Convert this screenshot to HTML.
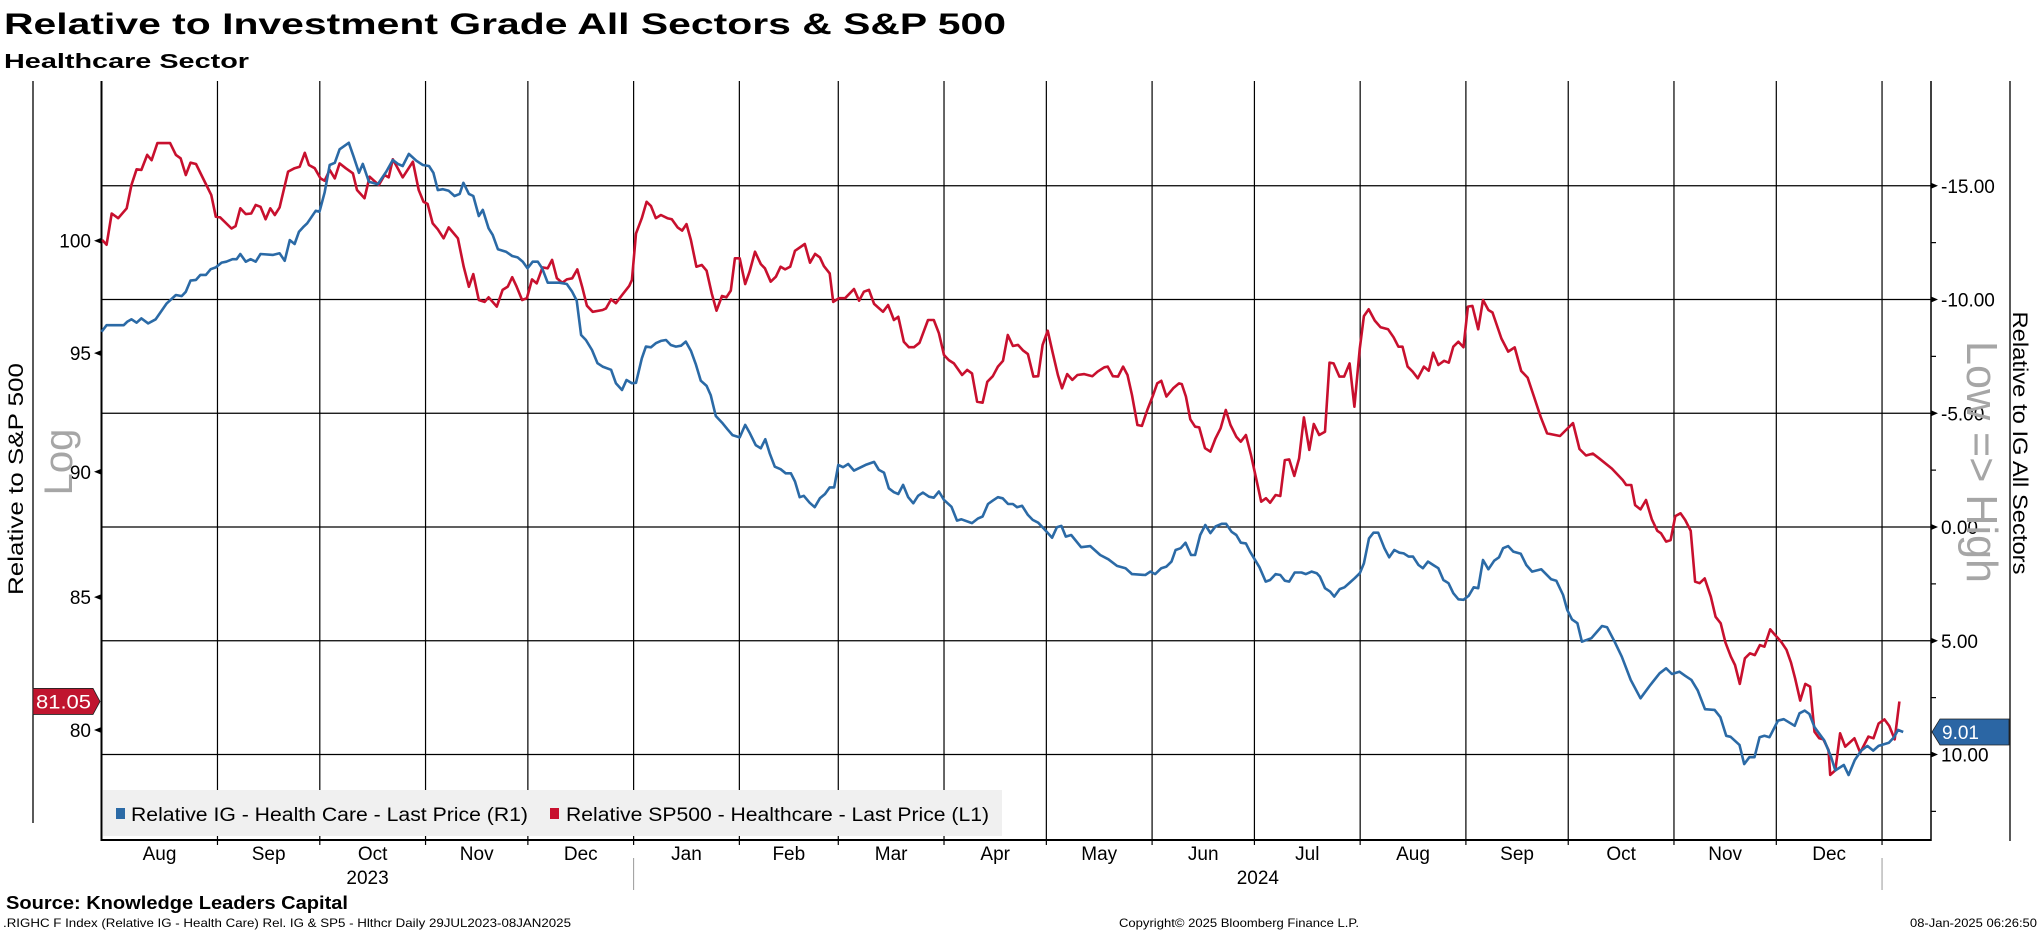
<!DOCTYPE html>
<html><head><meta charset="utf-8"><title>Relative to Investment Grade All Sectors & S&P 500</title>
<style>
html,body{margin:0;padding:0;background:#fff;}
svg{display:block;font-family:"Liberation Sans",sans-serif;}
</style></head>
<body>
<svg id="chart" width="2041" height="932" viewBox="0 0 2041 932" xmlns="http://www.w3.org/2000/svg">
  <rect x="0" y="0" width="2041" height="932" fill="#fff"/>
  <text x="4" y="34" font-size="30" font-weight="bold" textLength="1002" lengthAdjust="spacingAndGlyphs">Relative to Investment Grade All Sectors &amp; S&amp;P 500</text>
  <text x="4" y="68" font-size="20" font-weight="bold" textLength="245" lengthAdjust="spacingAndGlyphs">Healthcare Sector</text>
  <g id="grid"></g>
  <line x1="33" y1="81" x2="33" y2="823" stroke="#000" stroke-width="1.3"/>
  <line x1="101.5" y1="81" x2="101.5" y2="841" stroke="#000" stroke-width="2"/>
  <line x1="1931" y1="81" x2="1931" y2="841" stroke="#000" stroke-width="1.5"/>
  <line x1="2010" y1="81" x2="2010" y2="841" stroke="#000" stroke-width="1.3"/>
  <line x1="101.5" y1="840" x2="1931" y2="840" stroke="#000" stroke-width="2"/>
  <g id="legend">
    <rect x="103" y="790" width="899" height="46" fill="#f0f0f0"/>
    <rect x="116" y="808" width="9" height="11" fill="#2b6aa6"/>
    <text x="131" y="821" font-size="19" textLength="397" lengthAdjust="spacingAndGlyphs">Relative IG - Health Care - Last Price (R1)</text>
    <rect x="550" y="808" width="9" height="11" fill="#c8102e"/>
    <text x="566" y="821" font-size="19" textLength="423" lengthAdjust="spacingAndGlyphs">Relative SP500 - Healthcare - Last Price (L1)</text>
  </g>
  <g id="xaxis"></g>
  <g id="laxis"></g>
  <g id="raxis"></g>
  <g id="series"></g>
  <text transform="translate(23,479) rotate(-90)" text-anchor="middle" font-size="21" textLength="232" lengthAdjust="spacingAndGlyphs">Relative to S&amp;P 500</text>
  <text transform="translate(72,462) rotate(-90)" text-anchor="middle" font-size="40" fill="#a6a6a6">Log</text>
  <text transform="translate(1967,462) rotate(90)" text-anchor="middle" font-size="44" fill="#a6a6a6" textLength="242" lengthAdjust="spacingAndGlyphs">Low =&gt; High</text>
  <text transform="translate(2013,443) rotate(90)" text-anchor="middle" font-size="21" textLength="263" lengthAdjust="spacingAndGlyphs">Relative to IG All Sectors</text>
  <g id="badges"></g>
  <text x="6" y="909" font-size="18" font-weight="bold" textLength="342" lengthAdjust="spacingAndGlyphs">Source: Knowledge Leaders Capital</text>
  <text x="3" y="927" font-size="12" textLength="568" lengthAdjust="spacingAndGlyphs">.RIGHC F Index (Relative IG - Health Care) Rel. IG &amp; SP5 - Hlthcr  Daily 29JUL2023-08JAN2025</text>
  <text x="1119" y="927" font-size="12" textLength="240" lengthAdjust="spacingAndGlyphs">Copyright© 2025 Bloomberg Finance L.P.</text>
  <text x="1910" y="927" font-size="12" textLength="127" lengthAdjust="spacingAndGlyphs">08-Jan-2025 06:26:50</text>
</svg>
<script>
const monthStarts = ["2023-09-01","2023-10-01","2023-11-01","2023-12-01","2024-01-01","2024-02-01","2024-03-01","2024-04-01","2024-05-01","2024-06-01","2024-07-01","2024-08-01","2024-09-01","2024-10-01","2024-11-01","2024-12-01","2025-01-01"];
const monthLabels = ["Aug","Sep","Oct","Nov","Dec","Jan","Feb","Mar","Apr","May","Jun","Jul","Aug","Sep","Oct","Nov","Dec"];
const yearLabels = ["2023","2024"];
const leftTicks = [80,85,90,95,100];
const rightTicks = [-15,-10,-5,0,5,10];
const rightMinorTicks = [-12.5,-7.5,-2.5,2.5,7.5,12.5];
const redLast = 81.05;
const blueLast = 9.01;
const redDays = [0.2,1.5,3.0,4.9,7.4,8.8,10.3,11.7,13.4,14.7,16.4,20.1,21.8,23.2,24.7,26.1,27.7,29.3,32.2,33.5,34.8,38.1,39.3,40.7,42.3,43.9,45.2,46.6,48.1,49.5,50.8,52.2,54.7,56.6,58.1,59.6,60.8,62.5,64.2,65.4,66.9,68.4,69.8,71.6,73.7,74.9,77.1,78.6,81.3,83.0,84.2,85.4,88.3,91.3,93.0,94.4,95.6,97.1,98.6,100.3,101.8,104.5,106.2,107.7,109.0,110.6,112.3,113.5,115.9,117.6,119.1,120.4,121.7,123.3,124.7,126.2,127.6,129.3,130.8,132.1,133.5,135.1,136.4,138.0,139.5,140.9,142.3,144.0,146.9,147.9,149.4,150.8,152.6,154.7,155.5,156.7,158.4,159.8,161.1,162.5,164.0,165.9,167.2,168.9,170.2,171.5,172.8,174.4,176.0,177.4,178.9,180.3,181.9,183.2,184.5,185.7,187.1,188.7,190.0,191.6,193.3,194.5,196.2,197.7,199.1,200.4,201.9,203.3,206.2,207.7,209.2,210.6,211.8,213.5,214.5,216.2,218.0,220.6,222.1,223.5,225.0,226.5,229.1,230.6,232.3,233.6,235.2,236.7,238.2,239.8,242.3,244.0,245.5,247.0,248.4,249.9,252.3,253.8,255.2,256.7,258.3,259.7,261.3,262.8,264.3,265.7,267.2,268.7,270.2,271.6,273.2,274.6,275.9,277.4,278.9,280.4,281.6,283.1,284.6,286.1,288.1,290.5,292.0,294.0,295.0,296.5,298.0,299.5,300.8,302.1,303.7,305.0,306.6,308.3,309.5,310.7,312.2,314.2,315.9,316.7,317.9,319.2,320.6,321.8,323.5,325.1,326.6,328.1,329.6,331.0,332.7,334.0,335.5,337.0,338.5,340.0,341.4,342.6,344.2,345.6,346.9,348.2,349.7,351.1,352.5,354.1,355.4,357.0,358.7,360.0,361.2,362.9,364.3,365.9,367.3,368.9,370.1,371.5,373.3,375.0,377.2,378.8,380.2,381.4,382.9,384.4,385.9,387.7,389.1,390.4,391.9,393.6,395.0,396.3,397.8,399.3,400.6,401.9,403.6,405.0,406.6,407.8,410.4,412.4,414.3,416.2,418.1,420.0,421.9,423.8,427.6,429.5,431.4,433.3,435.2,437.2,439.0,442.8,446.0,447.0,448.5,449.6,451.2,452.8,454.5,456.1,457.2,458.7,460.0,461.4,462.9,464.3,465.9,467.2,468.5,470.0,471.8,473.2,474.7,476.1,477.7,478.9,480.3,481.8,483.3,484.7,486.2,487.5,489.2,490.6,492.4,494.0,495.3,496.5,498.0,499.5,500.9,502.2,503.6,504.8,506.3,506.8,508.3,509.7,511.2,513.9,515.6,518.0,519.5,521.0,522.7,524.1,525.7,527.1];
const redValues = [100.03,99.82,101.25,101.03,101.49,102.58,103.31,103.28,103.99,103.74,104.55,104.55,103.99,103.83,103.04,103.62,103.56,103.04,102.10,101.10,101.07,100.56,100.67,101.49,101.22,101.25,101.64,101.56,100.98,101.49,101.18,101.53,103.20,103.36,103.43,104.09,103.51,103.36,102.88,102.77,103.28,102.88,103.59,103.36,103.12,102.34,101.95,102.96,102.57,103.04,102.93,103.78,102.93,103.67,102.34,101.79,101.69,100.79,100.52,100.11,100.61,100.11,98.82,97.92,98.49,97.33,97.25,97.45,97.04,97.78,97.93,98.35,97.93,97.33,97.41,98.25,98.07,98.79,98.75,99.13,98.30,98.10,98.25,98.30,98.70,97.93,97.08,96.81,96.89,96.96,97.36,97.19,97.55,97.96,98.22,100.33,101.03,101.79,101.59,101.03,101.18,101.03,100.98,100.61,100.46,100.76,100.03,98.82,98.90,98.64,97.63,96.86,97.51,97.45,97.75,99.20,99.20,98.04,98.60,99.50,98.94,98.75,98.15,98.37,98.82,98.70,98.82,99.54,99.85,99.00,99.40,99.24,98.85,98.52,97.25,97.41,97.41,97.82,97.30,97.70,97.78,97.16,96.81,97.11,96.45,96.59,95.50,95.26,95.26,95.45,96.45,96.45,95.87,94.92,94.70,94.56,94.06,94.28,94.13,92.92,92.88,93.77,94.01,94.42,94.67,95.79,95.31,95.36,95.11,94.96,93.99,94.01,95.36,95.98,95.00,94.06,93.49,94.10,93.85,94.06,94.10,94.01,94.20,94.39,94.42,94.01,93.99,94.42,94.06,93.20,91.94,91.90,92.57,93.20,93.70,93.81,93.14,93.49,93.70,93.67,93.14,92.18,91.87,91.84,90.97,90.83,91.38,91.80,92.57,91.94,91.45,91.24,91.52,90.69,89.73,88.78,88.92,88.74,89.05,89.01,90.48,90.51,89.83,90.55,92.26,90.90,91.98,91.52,91.66,94.59,94.56,93.99,93.99,94.56,92.71,95.21,96.62,96.92,96.42,96.13,96.04,95.69,95.28,95.28,94.42,94.20,93.92,94.42,94.24,95.02,94.49,94.67,94.59,95.28,95.50,95.26,97.04,97.07,96.04,97.33,96.89,96.78,95.64,95.07,95.25,94.23,93.95,93.12,92.29,91.59,91.48,91.75,92.02,90.94,90.67,90.75,90.56,90.13,89.66,89.46,89.46,88.64,88.47,88.85,88.07,87.61,87.51,87.18,87.24,88.20,88.31,88.04,87.61,85.60,85.54,85.73,85.02,84.24,83.99,83.25,82.72,82.41,81.70,82.66,82.85,82.78,83.16,83.10,83.76,83.55,83.29,82.98,82.50,81.91,81.08,81.70,81.60,79.94,79.70,79.66,79.28,78.38,78.54,79.88,79.40,79.70,79.18,79.76,79.70,80.24,80.39,80.15,79.66,81.05];
const blueDays = [0,1.5,3.8,6.5,7.6,8.8,10.3,11.7,13.7,15.9,19.1,21.8,23.5,24.7,26.1,27.7,29.0,30.6,32.0,33.5,35.2,36.6,38.4,39.6,40.7,42.3,43.7,45.2,46.6,50.3,52.2,53.7,55.2,56.6,57.9,59.1,60.3,62.8,63.9,65.4,66.9,68.4,69.8,72.5,73.9,75.5,76.6,78.4,81.0,83.5,85.4,86.9,88.3,90.1,92.3,94.2,96.0,97.3,98.6,100.1,101.8,103.5,105.0,106.1,107.7,109.0,110.6,111.8,113.5,114.7,116.2,118.6,120.4,122.0,123.5,124.9,126.4,127.9,129.2,130.8,134.2,136.4,138.0,139.3,140.6,142.0,143.8,145.4,146.9,149.4,150.8,152.6,153.9,155.5,156.7,158.4,159.6,161.1,162.5,164.0,165.5,166.9,168.4,169.9,171.3,172.8,174.2,175.7,177.4,178.6,180.1,181.9,183.5,185.0,187.1,188.7,190.1,191.8,193.3,194.6,195.9,197.4,199.1,200.6,202.1,203.3,204.7,205.9,207.6,209.1,210.6,212.1,213.5,214.8,216.0,217.4,218.9,220.6,224.0,226.5,227.9,229.4,230.8,232.3,233.6,235.0,236.5,238.0,239.4,240.8,242.6,244.0,245.5,247.0,249.2,250.8,252.1,255.2,257.0,258.3,259.9,261.3,262.8,264.2,265.8,267.2,268.4,269.9,271.6,273.0,274.6,276.2,278.7,280.1,281.4,282.7,284.3,287.2,289.9,292.8,295.2,297.7,300.2,302.1,306.0,307.5,308.9,310.7,312.2,313.7,314.9,316.4,317.8,319.4,320.6,322.1,323.6,325.1,326.6,328.4,329.7,331.3,332.7,334.0,335.5,336.7,339.5,341.3,342.6,344.2,345.6,346.9,348.2,349.8,351.8,353.1,354.8,356.3,357.2,358.7,360.2,361.4,363.0,364.4,366.0,367.4,368.9,370.1,371.6,372.9,374.3,376.1,377.5,379.0,380.5,381.8,383.2,384.5,386.1,387.4,388.9,390.4,391.9,393.4,394.9,396.3,397.8,399.3,400.8,402.3,403.6,405.0,406.6,408.3,409.7,410.9,412.4,413.9,416.1,417.7,419.4,422.1,425.0,426.5,428.5,429.7,431.1,432.7,434.0,436.8,439.9,441.4,443.6,445.7,448.3,451.2,454.1,456.8,458.7,460.4,462.6,464.3,466.1,468.0,470.1,472.9,474.6,476.3,477.6,480.2,481.6,483.1,484.6,486.1,487.5,489.0,491.5,493.2,496.4,497.8,499.3,500.7,502.2,505.1,507.1,508.3,510.8,512.2,514.0,515.9,517.7,519.4,521.0,524.0,525.5,526.7,528.2];
const blueValues = [-8.58,-8.87,-8.87,-8.87,-9.03,-9.13,-8.98,-9.17,-8.95,-9.13,-9.83,-10.20,-10.15,-10.34,-10.83,-10.86,-11.08,-11.08,-11.33,-11.41,-11.62,-11.66,-11.77,-11.77,-12.00,-11.66,-11.77,-11.66,-12.00,-11.96,-12.03,-11.70,-12.61,-12.44,-12.98,-13.18,-13.35,-13.90,-13.86,-14.70,-15.91,-16.01,-16.60,-16.89,-16.28,-15.57,-15.96,-15.18,-15.07,-15.62,-16.13,-15.96,-15.87,-16.40,-16.10,-15.91,-15.87,-15.57,-14.81,-14.85,-14.78,-14.55,-14.64,-15.13,-14.64,-14.55,-13.67,-13.94,-13.13,-12.84,-12.21,-12.10,-11.91,-11.85,-11.66,-11.37,-11.66,-11.66,-11.37,-10.74,-10.74,-10.68,-10.34,-9.95,-8.44,-8.22,-7.78,-7.20,-7.05,-6.91,-6.32,-6.02,-6.46,-6.32,-6.34,-7.41,-7.93,-7.90,-8.08,-8.18,-8.22,-8.00,-7.93,-7.97,-8.15,-7.75,-7.17,-6.43,-6.20,-5.80,-4.88,-4.59,-4.30,-4.04,-3.94,-4.49,-4.12,-3.60,-3.46,-3.86,-3.24,-2.65,-2.54,-2.36,-2.36,-2.00,-1.31,-1.37,-1.07,-0.87,-1.26,-1.45,-1.74,-1.74,-2.73,-2.63,-2.77,-2.48,-2.73,-2.86,-2.51,-2.39,-1.70,-1.53,-1.45,-1.85,-1.31,-1.04,-1.37,-1.51,-1.33,-1.29,-1.56,-1.19,-0.89,-0.28,-0.34,-0.17,-0.38,-0.46,-1.01,-1.16,-1.31,-1.26,-1.01,-1.01,-0.87,-0.93,-0.53,-0.31,-0.19,0.06,0.47,0.01,-0.05,0.42,0.35,0.89,0.84,1.23,1.42,1.71,1.81,2.07,2.11,1.96,2.07,1.81,1.74,1.52,1.01,0.93,0.69,1.23,1.23,0.35,-0.09,0.27,-0.02,-0.14,-0.14,0.21,0.35,0.69,0.72,1.08,1.77,2.40,2.33,2.07,2.11,2.36,2.40,2.00,2.00,2.07,1.96,2.03,2.18,2.69,2.84,3.06,2.73,2.65,2.44,2.25,2.03,1.60,0.50,0.25,0.25,0.93,1.33,1.01,1.13,1.16,1.30,1.30,1.67,1.81,1.52,1.67,1.81,2.33,2.47,2.91,3.18,3.20,3.03,2.65,2.69,1.45,1.86,1.48,1.33,0.93,0.84,1.08,1.18,1.67,1.96,1.86,2.30,2.36,2.99,3.64,4.06,4.23,5.04,4.89,4.35,4.41,5.04,5.70,6.72,7.53,6.94,6.43,6.21,6.46,6.36,6.54,6.72,7.19,8.01,8.04,8.36,9.18,9.22,9.58,10.42,10.12,10.12,9.24,9.18,9.24,8.51,8.45,8.74,8.19,8.07,8.22,8.80,9.39,10.12,10.70,10.46,10.90,10.24,9.83,9.62,9.83,9.62,9.48,9.24,8.92,9.01];

const NS = "http://www.w3.org/2000/svg";
const START = Date.UTC(2023,6,29);
function dayOf(s){ const p=s.split("-"); return (Date.UTC(+p[0],+p[1]-1,+p[2])-START)/86400000; }
function xScale(d){ return 101.5 + d*3.411; }
function yLeft(v){ return 240.7 + Math.log(100/v)*2193; }
function yRight(v){ return 527 + v*22.75; }
function mk(tag, attrs, parent){ const e=document.createElementNS(NS,tag); for(const k in attrs) e.setAttribute(k,attrs[k]); parent.appendChild(e); return e; }

const grid = document.getElementById("grid");
const xaxis = document.getElementById("xaxis");
const laxis = document.getElementById("laxis");
const raxis = document.getElementById("raxis");
const series = document.getElementById("series");
const badges = document.getElementById("badges");

// vertical month gridlines
const bounds = [101.5];
monthStarts.forEach(function(m){
  const x = xScale(dayOf(m));
  bounds.push(x);
  const l = mk("line",{x1:x,y1:81,x2:x,y2:840,stroke:"#000","stroke-width":1.2},grid);
  
  
  const t = mk("line",{x1:x,y1:840,x2:x,y2:845,stroke:"#000","stroke-width":1.2},xaxis);
  
  
});
// horizontal gridlines from right axis ticks
rightTicks.forEach(function(v){
  const y = yRight(v);
  const l = mk("line",{x1:101.5,y1:y,x2:1931,y2:y,stroke:"#000","stroke-width":1.2},grid);
  
  
  const a = mk("path",{d:"M1931 "+(y-3)+" L1938 "+y+" L1931 "+(y+3)+" Z",fill:"#000"},raxis);
  
  
  const t = mk("text",{x:1941,y:y+7,"font-size":19},raxis);
  t.textContent = v.toFixed(2);
  
  
});
rightMinorTicks.forEach(function(v){
  const y = yRight(v);
  const t = mk("line",{x1:1931,y1:y,x2:1936,y2:y,stroke:"#000","stroke-width":1.2},raxis);
  
  
});
// left ticks
leftTicks.forEach(function(v){
  const y = yLeft(v);
  const a = mk("path",{d:"M101.5 "+(y-3)+" L94 "+y+" L101.5 "+(y+3)+" Z",fill:"#000"},laxis);
  
  
  const t = mk("text",{x:91,y:y+7,"font-size":19,"text-anchor":"end"},laxis);
  t.textContent = String(v);
  
  
});
// month labels
monthLabels.forEach(function(lab,i){
  const cx = (bounds[i]+bounds[i+1])/2;
  const t = mk("text",{x:cx,y:860,"font-size":19,"text-anchor":"middle"},xaxis);
  t.textContent = lab;
  
  
});
// year labels and separators
const yearBounds = [101.5, xScale(dayOf("2024-01-01")), xScale(dayOf("2025-01-01"))];
yearLabels.forEach(function(y,i){
  const t = mk("text",{x:(yearBounds[i]+yearBounds[i+1])/2,y:884,"font-size":19,"text-anchor":"middle"},xaxis);
  t.textContent = y;
  
  
});
[yearBounds[1],yearBounds[2]].forEach(function(x){
  const l = mk("line",{x1:x,y1:858,x2:x,y2:890,stroke:"#999","stroke-width":1},xaxis);
  
  
});
// series
function pathFrom(days, vals, yf){
  let d = "";
  for(let i=0;i<days.length;i++){ d += (i?"L":"M") + xScale(days[i]).toFixed(1) + " " + yf(vals[i]).toFixed(1); }
  return d;
}
const redPath = mk("path",{d:pathFrom(redDays,redValues,yLeft),fill:"none",stroke:"#c8102e","stroke-width":2.6,"stroke-linejoin":"round"},series);


const bluePath = mk("path",{d:pathFrom(blueDays,blueValues,yRight),fill:"none",stroke:"#2b6aa6","stroke-width":2.6,"stroke-linejoin":"round"},series);


// last value badges
const ry = yLeft(redLast);
const rb = mk("path",{d:"M33 "+(ry-13)+" L93 "+(ry-13)+" L100 "+ry+" L93 "+(ry+13)+" L33 "+(ry+13)+" Z",fill:"#c0152f",stroke:"#222","stroke-width":0.8},badges);


const rt = mk("text",{x:36,y:ry+7,"font-size":19,fill:"#fff",textLength:55,lengthAdjust:"spacingAndGlyphs"},badges);
rt.textContent = redLast.toFixed(2);


const by = yRight(blueLast);
const bb = mk("path",{d:"M1932 "+by+" L1940 "+(by-13)+" L2009 "+(by-13)+" L2009 "+(by+13)+" L1940 "+(by+13)+" Z",fill:"#2b66a4",stroke:"#222","stroke-width":0.8},badges);


const bt = mk("text",{x:1942,y:by+7,"font-size":19,fill:"#fff"},badges);
bt.textContent = blueLast.toFixed(2);


</script>
</body></html>
